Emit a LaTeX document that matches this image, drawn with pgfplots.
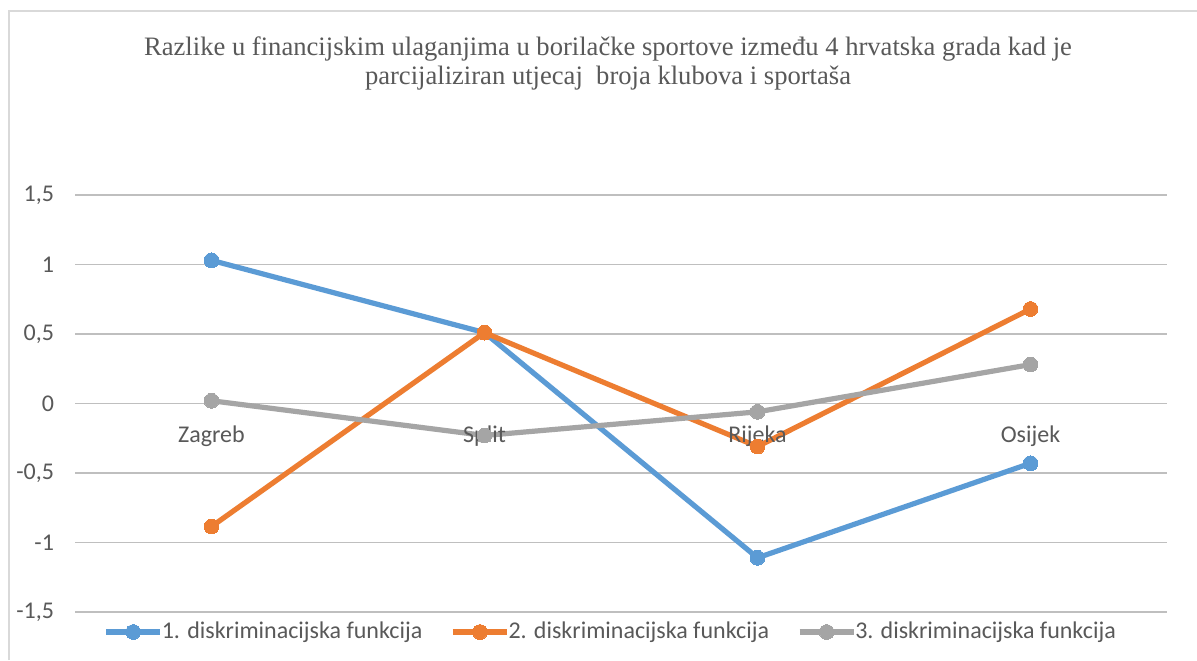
\documentclass[border=0pt]{standalone}
\usepackage{fontspec}
\setmainfont{Liberation Serif}
\newfontfamily\calibri{Carlito}
\usepackage{pgfplots}
\pgfplotsset{compat=1.18}
\definecolor{cblue}{HTML}{5B9BD5}
\definecolor{corange}{HTML}{ED7D31}
\definecolor{cgray}{HTML}{A5A5A5}
\definecolor{txt}{HTML}{595959}
\definecolor{grid}{HTML}{D9D9D9}
\begin{document}
\begin{tikzpicture}
\path[use as bounding box] (0,0) rectangle (598.5pt,330pt);
\fill[white] (0,0) rectangle (598.5pt,330pt);
\draw[grid, line width=0.75pt] (4.5pt,0) -- (4.5pt,324.5pt) -- (598.5pt,324.5pt);
\node[txt, font=\fontsize{13.3}{16}\selectfont, anchor=base] at (304pt,302pt) {Razlike u financijskim ulaganjima u borilačke sportove između 4 hrvatska grada kad je};
\node[txt, font=\fontsize{13.3}{16}\selectfont, anchor=base] at (304pt,287.5pt) {parcijaliziran utjecaj\ \ broja klubova i sportaša};
\begin{axis}[
  at={(37.5pt,24pt)}, anchor=south west,
  scale only axis, width=546pt, height=208.5pt,
  xmin=-0.5, xmax=3.5, ymin=-1.5, ymax=1.5,
  axis x line=none, axis y line*=left, y axis line style={draw=none},
  ytick={-1.5,-1,-0.5,0,0.5,1,1.5},
  yticklabels={{-1,5},{-1},{-0,5},{0},{0,5},{1},{1,5}},
  major tick length=0pt,
  ymajorgrids, grid style={grid, line width=0.9pt},
  yticklabel style={font=\calibri\fontsize{12}{14}\selectfont, text=txt, xshift=-7pt},
  clip=false,
  legend columns=3,
  legend style={draw=none, fill=none, font=\calibri\fontsize{12}{14}\selectfont, text=txt,
    at={(0.4915,-0.048)}, anchor=center, inner sep=0pt,
    /tikz/every even column/.append style={column sep=12pt},
    /tikz/every odd column/.append style={column sep=-2.5pt}},
  legend cell align=left,
  legend image code/.code={\draw[mark repeat=2, mark phase=2, #1] plot coordinates {(0pt,0pt) (13.5pt,0pt) (27pt,0pt)};},
  every axis plot/.append style={line width=2.6pt, mark=*, mark size=3.7pt, line join=round},
]
\addplot[cblue, mark options={fill=cblue, draw=cblue, line width=0pt}] coordinates {(0,1.03) (1,0.51) (2,-1.11) (3,-0.43)};
\addlegendentry{1. diskriminacijska funkcija}
\addplot[corange, mark options={fill=corange, draw=corange, line width=0pt}] coordinates {(0,-0.885) (1,0.51) (2,-0.31) (3,0.68)};
\addlegendentry{2. diskriminacijska funkcija}
\addplot[cgray, mark options={fill=cgray, draw=cgray, line width=0pt}] coordinates {(0,0.02) (1,-0.23) (2,-0.06) (3,0.28)};
\addlegendentry{3. diskriminacijska funkcija}
\node[txt, font=\calibri\fontsize{12}{14}\selectfont, anchor=center] at (axis cs:0,-0.237) {Zagreb};
\node[txt, font=\calibri\fontsize{12}{14}\selectfont, anchor=center] at (axis cs:1,-0.237) {Split};
\node[txt, font=\calibri\fontsize{12}{14}\selectfont, anchor=center] at (axis cs:2,-0.237) {Rijeka};
\node[txt, font=\calibri\fontsize{12}{14}\selectfont, anchor=center] at (axis cs:3,-0.237) {Osijek};
\end{axis}
\end{tikzpicture}
\end{document}
